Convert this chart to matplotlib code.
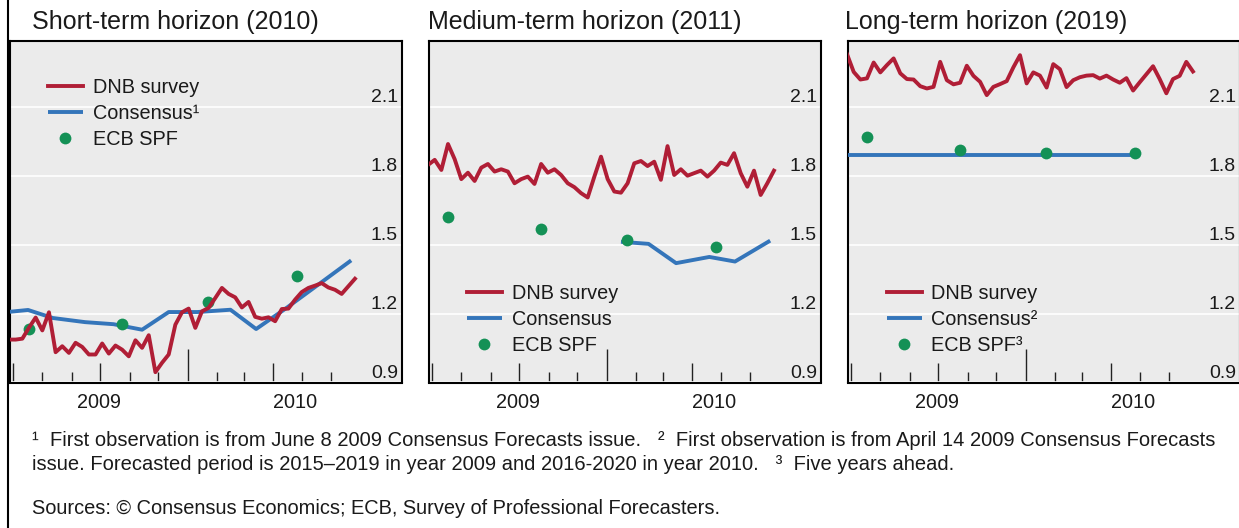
import matplotlib
matplotlib.use('Agg')
import matplotlib.pyplot as plt
import matplotlib.dates as mdates
from matplotlib.lines import Line2D
from matplotlib.transforms import ScaledTranslation, blended_transform_factory
import pandas as pd

plt.rcParams['font.family'] = ['Liberation Sans', 'DejaVu Sans']

W, H, DPI = 1239, 528, 100

# ---------------- data ----------------
titles = ['Short-term horizon (2010)', 'Medium-term horizon (2011)', 'Long-term horizon (2019)']
legend_labels = [
    ['DNB survey', 'Consensus\u00b9', 'ECB SPF'],
    ['DNB survey', 'Consensus', 'ECB SPF'],
    ['DNB survey', 'Consensus\u00b2', 'ECB SPF\u00b3'],
]
y_ticks = [0.9, 1.2, 1.5, 1.8, 2.1]
y_tick_labels = ['0.9', '1.2', '1.5', '1.8', '2.1']
year_labels = ['2009', '2010']

# DNB household survey, weekly observations
dnb_start = '2009-06-27'
dnb_short = [1.087,
             1.087, 1.091, 1.139, 1.183, 1.127, 1.206, 1.032, 1.058, 1.029, 1.073,
             1.055, 1.022, 1.022, 1.070, 1.026, 1.061, 1.043, 1.014, 1.084, 1.051,
             1.106, 0.945, 0.986, 1.022, 1.152, 1.206, 1.222, 1.138, 1.210, 1.225,
             1.268, 1.312, 1.286, 1.271, 1.227, 1.251, 1.186, 1.178, 1.184, 1.167,
             1.220, 1.222, 1.261, 1.294, 1.312, 1.322, 1.333, 1.314, 1.304, 1.286,
             1.319, 1.352]
dnb_medium = [1.848,
              1.870, 1.826, 1.939, 1.873, 1.786, 1.814, 1.778, 1.836, 1.852, 1.819,
              1.829, 1.819, 1.768, 1.786, 1.797, 1.765, 1.852, 1.814, 1.829, 1.804,
              1.768, 1.751, 1.725, 1.706, 1.797, 1.884, 1.786, 1.732, 1.727, 1.768,
              1.855, 1.865, 1.843, 1.862, 1.783, 1.930, 1.804, 1.829, 1.801, 1.812,
              1.823, 1.797, 1.823, 1.858, 1.848, 1.899, 1.812, 1.753, 1.823, 1.717,
              1.768, 1.823]
dnb_long = [2.330,
            2.253, 2.220, 2.225, 2.294, 2.251, 2.283, 2.312, 2.247, 2.222, 2.220,
            2.191, 2.181, 2.188, 2.297, 2.217, 2.199, 2.206, 2.280, 2.236, 2.210,
            2.152, 2.188, 2.200, 2.213, 2.273, 2.326, 2.203, 2.251, 2.237, 2.185,
            2.287, 2.265, 2.187, 2.217, 2.230, 2.237, 2.239, 2.224, 2.237, 2.220,
            2.206, 2.226, 2.172, 2.208, 2.243, 2.278, 2.222, 2.160, 2.222, 2.236,
            2.297, 2.255]

# Consensus Forecasts
cons_short_dates = ['2009-06-08', '2009-07-17', '2009-08-12', '2009-09-15', '2009-10-15',
                    '2009-11-14', '2009-12-12', '2010-01-11', '2010-02-15', '2010-03-14',
                    '2010-04-14', '2010-05-14', '2010-06-22']
cons_short = [1.200, 1.216, 1.181, 1.163, 1.154, 1.130, 1.207, 1.207, 1.217, 1.133,
              1.222, 1.313, 1.432]
cons_medium_dates = ['2010-01-16', '2010-02-14', '2010-03-15', '2010-04-19', '2010-05-16',
                     '2010-06-22']
cons_medium = [1.513, 1.504, 1.420, 1.447, 1.427, 1.518]
cons_long_dates = ['2009-04-14', '2009-10-12', '2010-04-28']
cons_long = [1.893, 1.893, 1.893]

# ECB Survey of Professional Forecasters, quarterly
spf_dates = ['2009-07-18', '2009-10-24', '2010-01-22', '2010-04-26']
spf_short = [1.133, 1.155, 1.252, 1.362]
spf_medium = [1.619, 1.568, 1.519, 1.490]
spf_long = [1.971, 1.913, 1.901, 1.899]

footnote_1 = ('\u00b9  First observation is from June 8 2009 Consensus Forecasts issue.   '
              '\u00b2  First observation is from April 14 2009 Consensus Forecasts')
footnote_2 = ('issue. Forecasted period is 2015\u20132019 in year 2009 and 2016-2020 in year 2010.   '
              '\u00b3  Five years ahead.')
sources = 'Sources: \u00a9 Consensus Economics; ECB, Survey of Professional Forecasters.'

# ---------------- style ----------------
RED = '#B01E36'
BLUE = '#3475BA'
GREEN = '#149156'
BG = '#EBEBEB'
TXT = '#1a1a1a'

dnb = [dnb_short, dnb_medium, dnb_long]
cons_dates = [cons_short_dates, cons_medium_dates, cons_long_dates]
cons = [cons_short, cons_medium, cons_long]
spf = [spf_short, spf_medium, spf_long]

month_ticks = pd.date_range('2009-07-01', '2010-06-01', freq='MS')
grid_months = pd.to_datetime(['2009-10-01', '2010-01-01', '2010-04-01'])
x_start = pd.Timestamp('2009-06-28')
x_end = pd.Timestamp('2010-08-14 12:00')
year_break = pd.Timestamp('2010-01-01')

fig = plt.figure(figsize=(W / DPI, H / DPI), dpi=DPI)

panel_left_px = [10, 429, 848]
panel_w_px = 392
ax_top_px, ax_bot_px = 40.5, 382.5
title_x_px = [32, 428, 845]
legend_anchor = [(0.097, 0.890), (0.097, 0.287), (0.099, 0.287)]

for k in range(3):
    ax = fig.add_axes([panel_left_px[k] / W, 1 - ax_bot_px / H,
                       panel_w_px / W, (ax_bot_px - ax_top_px) / H])
    ax.set_facecolor(BG)
    ax.set_axisbelow(True)

    dnb_dates = pd.date_range(dnb_start, periods=len(dnb[k]), freq='7D')
    l_cons, = ax.plot(pd.to_datetime(cons_dates[k]), cons[k], color=BLUE, lw=2.8,
                      zorder=3, solid_capstyle='butt')
    l_spf, = ax.plot(pd.to_datetime(spf_dates), spf[k], ls='none', marker='o', ms=8.5,
                     color=GREEN, markeredgewidth=0, zorder=4)
    l_dnb, = ax.plot(dnb_dates, dnb[k], color=RED, lw=2.8, zorder=5)

    ax.set_xlim(x_start, x_end)
    ax.set_ylim(0.9, 2.39)

    for s in ax.spines.values():
        s.set_linewidth(1.5)
        s.set_color('black')

    # x ticks: monthly, inward, longer for quarters and year
    ax.set_xticks(month_ticks)
    ax.set_xticks(grid_months, minor=True)
    ax.tick_params(axis='x', which='major', direction='in', length=7.9, width=1.0,
                   color='#222222', labelbottom=False, top=False)
    ax.tick_params(axis='x', which='minor', length=0, labelbottom=False, top=False)
    for d, t in zip(month_ticks, ax.xaxis.get_major_ticks()):
        if d.month == 1:
            t.tick1line.set_markersize(24.5)
        elif d.month in (4, 7, 10):
            t.tick1line.set_markersize(14.4)
    ax.grid(True, which='minor', axis='x', color='white', lw=1.2)

    # y ticks: labels inside on the right, above gridlines
    ax.set_yticks(y_ticks)
    ax.set_yticklabels(y_tick_labels)
    ax.tick_params(axis='y', which='both', left=False, right=False, labelleft=False,
                   labelright=True, pad=-6.5, labelsize=14, labelcolor=TXT)
    ax.grid(True, which='major', axis='y', color='white', lw=1.2)
    shift = ScaledTranslation(0, 5 / DPI, fig.dpi_scale_trans)
    for t in ax.yaxis.get_major_ticks():
        t.label2.set_ha('right')
        t.label2.set_va('baseline')
        t.label2.set_transform(t.label2.get_transform() + shift)

    # year labels centred on the visible part of each year
    trans = blended_transform_factory(ax.transData, ax.transAxes)
    mids = [x_start + (year_break - x_start) / 2, year_break + (x_end - year_break) / 2]
    for m, lab in zip(mids, year_labels):
        ax.text(mdates.date2num(m), -(403 - ax_bot_px) / (ax_bot_px - ax_top_px), lab,
                transform=trans, ha='center', va='center', fontsize=14.3, color=TXT,
                clip_on=False)

    ax.legend([l_dnb, l_cons, l_spf], legend_labels[k], loc='upper left',
              bbox_to_anchor=legend_anchor[k], frameon=False, fontsize=14.3,
              handlelength=1.75, handletextpad=0.5, labelspacing=0.35,
              borderpad=0, borderaxespad=0, labelcolor=TXT)

    fig.text(title_x_px[k] / W, 1 - 28.5 / H, titles[k], fontsize=18, color=TXT,
             ha='left', va='baseline')

# left border of the figure
fig.add_artist(Line2D([8.2 / W, 8.2 / W], [0, 1], transform=fig.transFigure,
                      color='black', lw=1.5))

fig.text(32 / W, 1 - 440 / H, footnote_1, fontsize=14.5, color=TXT, va='center')
fig.text(32 / W, 1 - 465 / H, footnote_2, fontsize=14.5, color=TXT, va='center')
fig.text(32 / W, 1 - 508 / H, sources, fontsize=14.4, color=TXT, va='center')

fig.savefig('out.png', dpi=DPI)
